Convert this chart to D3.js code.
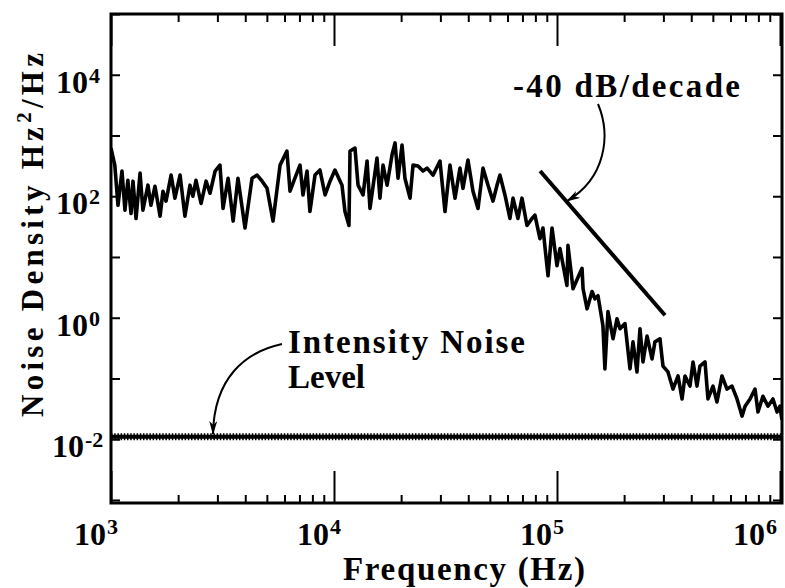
<!DOCTYPE html>
<html>
<head>
<meta charset="utf-8">
<script src="https://cdnjs.cloudflare.com/ajax/libs/d3/7.8.5/d3.min.js"></script>
<style>
  body { margin: 0; background: #fff; }
  text { font-family: "Liberation Serif", "DejaVu Serif", serif; font-weight: bold; fill: #000; }
</style>
</head>
<body>
<div id="chart"></div>
<script>
// ---------- data ----------
var freqHz = [1000,1040,1075,1120,1155,1190,1230,1255,1295,1350,
  1390,1465,1510,1575,1660,1710,1765,1860,1935,2040,
  2145,2260,2330,2405,2535,2670,2780,2930,3080,3180,
  3350,3530,3710,3990,4290,4520,4760,5010,5330,5730,
  6150,6350,6680,7040,7260,7570,7800,8220,8650,9120,
  9600,10100,10860,11200,11670,11800,12420,12820,13500,14070,
  14500,15590,16070,16590,17300,18200,18780,19370,20190,20800,
  21930,22610,23820,25060,26140,27800,29870,31460,33110,34890,
  36730,37870,39880,42000,44240,46580,49060,51650,53830,55480,
  58430,61520,63500,66830,69660,73340,77250,79630,83850,86500,
  91150,95000,100000,103100,110800,112000,118000,129500,130900,136400,
  143600,148000,152700,160700,164000,169300,178300,185800,191700,201800,
  212500,219200,228400,235600,243000,253400,266800,275000,289500,298700,
  314500,331300,349000,363700,375000,394800,407400,424400,437600,461000,
  475300,500800,521600,549200,578500,609100,641600,675600,697300,733900,
  772600,796500,838500,883100,930000,970000,1000000,1020000];

var density = [620,325,71,260,59,183,52,177,43,240,
  59,152,71,146,47,121,83,223,93,223,
  47,152,100,183,76,177,112,260,325,63,
  198,39,198,30,198,223,177,135,39,325,
  555,121,198,325,105,260,56,223,270,105,
  177,270,152,56,33,555,620,152,105,380,
  63,425,93,325,152,478,755,198,695,198,
  93,325,315,260,290,223,380,56,325,93,
  290,135,394,121,63,290,152,83,152,223,
  105,43,93,43,93,33,43,49,20,30,
  4.9,30,7.2,13.8,3.4,15.5,3.0,6.5,3.0,1.4,
  2.7,2.05,2.3,0.74,0.144,1.26,0.45,0.96,0.66,0.8,
  0.144,0.40,0.128,0.66,0.187,0.50,0.21,0.40,0.45,0.16,
  0.128,0.067,0.11,0.046,0.11,0.075,0.187,0.075,0.16,0.187,
  0.046,0.075,0.041,0.11,0.067,0.075,0.046,0.024,0.035,0.046,
  0.067,0.028,0.051,0.035,0.046,0.028,0.035,0.021];

// flat intensity noise level
var intensityLevel = 0.011;

// -40 dB/decade guide line end points [Hz, density]
var slopeLine = [[84000, 260], [305000, 1.1]];

// axis tick exponents
var xDecades = [3, 4, 5, 6];
var yDecades = [-3, -2, -1, 0, 1, 2, 3, 4, 5];
var yLabelExps = [4, 2, 0, -2];

var svgWidth = 785;
var svgHeight = 588;

var margin = { top: 14, right: 3, bottom: 85, left: 111 };
var width = svgWidth - margin.left - margin.right;
var height = svgHeight - margin.top - margin.bottom;

var svg = d3.select("#chart")
  .append("svg")
  .attr("width", svgWidth)
  .attr("height", svgHeight);

var chartGroup = svg.append("g")
  .attr("transform", `translate(${margin.left}, ${margin.top})`);

// scales
var xScale = d3.scaleLog()
  .domain([1e3, Math.pow(10, 6.009)])
  .range([0, width]);

var yScale = d3.scaleLog()
  .domain([Math.pow(10, -3.05), 1e5])
  .range([height, 0]);

// ---------- ticks ----------
var majorX = xDecades.map(d => Math.pow(10, d));
var minorX = [];
xDecades.slice(0, 3).forEach(function(d) {
  for (var k = 2; k <= 9; k++) minorX.push(k * Math.pow(10, d));
});
var yTicks = yDecades.map(d => Math.pow(10, d));

function styleTicks(g) {
  g.select(".domain").remove();
  g.selectAll("line").attr("stroke", "#000").attr("stroke-width", 2);
  g.selectAll("text").remove();
}

chartGroup.append("g")
  .attr("transform", `translate(0, ${height})`)
  .call(d3.axisBottom(xScale).tickValues(minorX).tickSize(-8).tickFormat(""))
  .call(styleTicks);

chartGroup.append("g")
  .attr("transform", `translate(0, ${height})`)
  .call(d3.axisBottom(xScale).tickValues(majorX).tickSize(-32).tickFormat(""))
  .call(styleTicks);

chartGroup.append("g")
  .call(d3.axisTop(xScale).tickValues(minorX).tickSize(-8).tickFormat(""))
  .call(styleTicks);

chartGroup.append("g")
  .call(d3.axisTop(xScale).tickValues(majorX).tickSize(-32).tickFormat(""))
  .call(styleTicks);

chartGroup.append("g")
  .call(d3.axisLeft(yScale).tickValues(yTicks).tickSize(-9).tickFormat(""))
  .call(styleTicks);

chartGroup.append("g")
  .attr("transform", `translate(${width}, 0)`)
  .call(d3.axisRight(yScale).tickValues(yTicks).tickSize(-9).tickFormat(""))
  .call(styleTicks);

// frame
chartGroup.append("rect")
  .attr("width", width)
  .attr("height", height)
  .attr("fill", "none")
  .attr("stroke", "#000")
  .attr("stroke-width", 3);

// ---------- tick labels (10 with superscript) ----------
xDecades.forEach(function(d) {
  var px = xScale(Math.pow(10, d));
  var right = px + 12;
  if (right > width) right = width;
  var lab = chartGroup.append("g")
    .attr("transform", `translate(${right}, ${height + 42})`);
  lab.append("text")
    .attr("x", -17)
    .attr("text-anchor", "end")
    .attr("font-size", 32)
    .text("10");
  lab.append("text")
    .attr("x", -16)
    .attr("y", -11)
    .attr("font-size", 22)
    .text(d);
});

yLabelExps.forEach(function(d) {
  var py = yScale(Math.pow(10, d));
  var lab = chartGroup.append("g")
    .attr("transform", `translate(-23, ${py})`);
  lab.append("text")
    .attr("x", d < 0 ? -4 : 0)
    .attr("y", 18)
    .attr("text-anchor", "end")
    .attr("font-size", 32)
    .text("10");
  lab.append("text")
    .attr("x", d < 0 ? -3 : 1)
    .attr("y", 8)
    .attr("font-size", 22)
    .text(d < 0 ? "-" + Math.abs(d) : d);
});

// ---------- data lines ----------
chartGroup.append("clipPath")
  .attr("id", "plotClip")
  .append("rect")
  .attr("width", width)
  .attr("height", height);

var plotArea = chartGroup.append("g")
  .attr("clip-path", "url(#plotClip)");

var spectrum = freqHz.map((f, i) => [f, density[i]]);

var line = d3.line()
  .x(d => xScale(d[0]))
  .y(d => yScale(d[1]));

plotArea.append("path")
  .datum(spectrum)
  .attr("d", line)
  .attr("fill", "none")
  .attr("stroke", "#000")
  .attr("stroke-width", 3.6)
  .attr("stroke-linejoin", "round");

// intensity noise level: thick beaded line
var levelLine = [[xScale.domain()[0], intensityLevel], [xScale.domain()[1], intensityLevel]];
plotArea.append("path")
  .datum(levelLine)
  .attr("d", line)
  .attr("stroke", "#000")
  .attr("stroke-width", 4);
plotArea.append("path")
  .datum(levelLine)
  .attr("d", line)
  .attr("stroke", "#000")
  .attr("stroke-width", 7)
  .attr("stroke-dasharray", "1.5,1.7");

// -40 dB/decade guide
plotArea.append("path")
  .datum(slopeLine)
  .attr("d", line)
  .attr("stroke", "#000")
  .attr("stroke-width", 4);

// ---------- annotations ----------
var defs = svg.append("defs");
defs.append("marker")
  .attr("id", "arrow")
  .attr("viewBox", "0 0 14 8")
  .attr("refX", 13)
  .attr("refY", 4)
  .attr("markerWidth", 14)
  .attr("markerHeight", 8)
  .attr("markerUnits", "userSpaceOnUse")
  .attr("orient", "auto")
  .append("path")
  .attr("d", "M0,0 L14,4 L0,8 L4,4 Z")
  .attr("fill", "#000");

svg.append("path")
  .attr("d", "M598,104 C611,135 606,178 567,201")
  .attr("fill", "none")
  .attr("stroke", "#000")
  .attr("stroke-width", 2)
  .attr("marker-end", "url(#arrow)");

svg.append("path")
  .attr("d", "M282,344 C245,352 214,378 213,434")
  .attr("fill", "none")
  .attr("stroke", "#000")
  .attr("stroke-width", 2)
  .attr("marker-end", "url(#arrow)");

svg.append("text")
  .attr("x", 513)
  .attr("y", 97)
  .attr("font-size", 33)
  .attr("textLength", 227)
  .attr("lengthAdjust", "spacing")
  .text("-40 dB/decade");

svg.append("text")
  .attr("x", 288)
  .attr("y", 353)
  .attr("font-size", 33)
  .attr("textLength", 237)
  .attr("lengthAdjust", "spacing")
  .text("Intensity Noise");

svg.append("text")
  .attr("x", 288)
  .attr("y", 388)
  .attr("font-size", 33)
  .text("Level");

// axis titles
svg.append("text")
  .attr("x", 343)
  .attr("y", 580)
  .attr("font-size", 33)
  .attr("textLength", 242)
  .attr("lengthAdjust", "spacing")
  .text("Frequency (Hz)");

var yTitle = svg.append("text")
  .attr("transform", "translate(43, 417) rotate(-90)")
  .attr("font-size", 31)
  .attr("textLength", 364)
  .attr("lengthAdjust", "spacing");
yTitle.append("tspan").text("Noise Density Hz");
yTitle.append("tspan").attr("dy", -12).attr("font-size", 21).text("2");
yTitle.append("tspan").attr("dy", 12).text("/Hz");
</script>
</body>
</html>
